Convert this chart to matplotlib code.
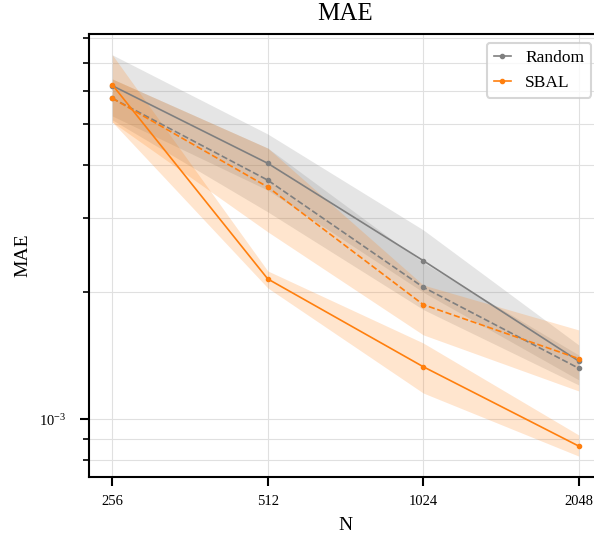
import matplotlib
matplotlib.use("Agg")
import matplotlib.pyplot as plt
from matplotlib.ticker import NullFormatter, FixedLocator, NullLocator

plt.rcParams['font.family'] = ['Liberation Serif', 'DejaVu Serif']
plt.rcParams['mathtext.fontset'] = 'stix'

N = [256, 512, 1024, 2048]
xtick_labels = ["256", "512", "1024", "2048"]

random_mean = [6.17e-3, 4.04e-3, 2.376e-3, 1.374e-3]
random_lo = [5.23e-3, 3.49e-3, 2.00e-3, 1.24e-3]
random_hi = [7.30e-3, 4.74e-3, 2.81e-3, 1.50e-3]

random2_mean = [5.76e-3, 3.685e-3, 2.055e-3, 1.321e-3]
random2_lo = [5.12e-3, 3.10e-3, 1.82e-3, 1.206e-3]
random2_hi = [6.40e-3, 4.39e-3, 2.35e-3, 1.42e-3]

sbal_mean = [6.2e-3, 2.15e-3, 1.332e-3, 8.64e-4]
sbal_lo = [5.06e-3, 2.047e-3, 1.154e-3, 8.18e-4]
sbal_hi = [7.30e-3, 2.246e-3, 1.516e-3, 9.18e-4]

sbal2_mean = [5.76e-3, 3.55e-3, 1.869e-3, 1.392e-3]
sbal2_lo = [5.06e-3, 2.78e-3, 1.585e-3, 1.167e-3]
sbal2_hi = [6.40e-3, 4.39e-3, 2.08e-3, 1.628e-3]

GRAY = '#7f7f7f'
ORANGE = '#ff7f0e'

W, H = 594, 539
fig = plt.figure(figsize=(W / 100, H / 100), dpi=100)
ax = fig.add_axes([89 / W, (H - 476.7) / H, (602 - 89) / W, (476.7 - 34) / H])

ax.set_xscale('log', base=2)
ax.set_yscale('log')

ax.fill_between(N, random_lo, random_hi, color=GRAY, alpha=0.2, linewidth=0)
ax.fill_between(N, random2_lo, random2_hi, color=GRAY, alpha=0.2, linewidth=0)
ax.fill_between(N, sbal_lo, sbal_hi, color=ORANGE, alpha=0.2, linewidth=0)
ax.fill_between(N, sbal2_lo, sbal2_hi, color=ORANGE, alpha=0.2, linewidth=0)

ax.plot(N, random_mean, '-o', color=GRAY, lw=1.2, ms=3, label='Random')
ax.plot(N, random2_mean, '--o', color=GRAY, lw=1.2, ms=3)
ax.plot(N, sbal_mean, '-o', color=ORANGE, lw=1.2, ms=3, label='SBAL')
ax.plot(N, sbal2_mean, '--o', color=ORANGE, lw=1.2, ms=3)

ax.set_xlim(256 * 2 ** -0.15, 2048 * 2 ** 0.15)
ax.set_ylim(7.31e-4, 8.18e-3)

ax.xaxis.set_major_locator(FixedLocator(N))
ax.set_xticklabels(xtick_labels)
ax.xaxis.set_minor_locator(NullLocator())
ax.yaxis.set_minor_formatter(NullFormatter())

ax.grid(True, which='both', color='#e0e0e0', lw=0.8)
ax.set_axisbelow(True)

for s in ax.spines.values():
    s.set_linewidth(1.5)
ax.tick_params(which='major', length=6.5, width=1.5, labelsize=10.5)
ax.tick_params(which='minor', length=4.3, width=1.2)
ax.tick_params(axis='x', which='major', pad=6.5)
ax.tick_params(axis='y', which='major', pad=10)

ax.set_title('MAE', fontsize=18, pad=9.9)
ax.set_xlabel('N', fontsize=14, labelpad=6.5)
ax.set_ylabel('MAE', fontsize=14, labelpad=5.5)

leg = ax.legend(loc='upper right', bbox_to_anchor=((591 - 89) / (602 - 89), (476.7 - 43) / (476.7 - 34)),
                borderaxespad=0, fontsize=12.5, frameon=True, fancybox=True, handlelength=1.0)
leg.get_frame().set_edgecolor('#cccccc')
leg.get_frame().set_linewidth(1.5)

fig.savefig('out.png', dpi=100)
